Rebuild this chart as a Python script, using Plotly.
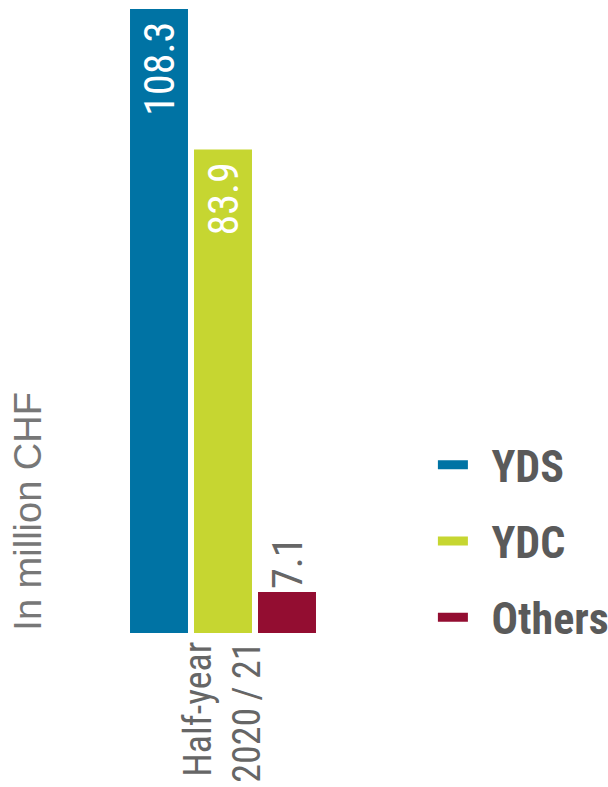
import plotly.graph_objects as go

# data
category = ["Half-year<br>2020\u2009/\u200921"]
series_names = ["YDS", "YDC", "Others"]
series_values = [108.3, 83.9, 7.1]
series_colors = ["#0073a4", "#c6d631", "#930d31"]
label_positions = ["inside", "inside", "outside"]

NARROW = "Liberation Sans Narrow, Arial Narrow, Roboto Condensed, Liberation Sans, sans-serif"
GREY = "#666666"

fig = go.Figure()

for name, val, color, pos in zip(series_names, series_values, series_colors, label_positions):
    # trailing nbsp keeps the inside labels a little below the bar top
    label = f"{val:.1f}" + ("\u00a0" if pos == "inside" else "")
    fig.add_trace(go.Bar(
        x=category,
        y=[val],
        name=name,
        marker=dict(color=color, line=dict(width=0)),
        text=[label],
        textposition=pos,
        insidetextanchor="end",
        textangle=-90,
        constraintext="none",
        cliponaxis=False,
        insidetextfont=dict(family=NARROW, size=42, color="white"),
        outsidetextfont=dict(family=NARROW, size=42, color=GREY),
        showlegend=False,
    ))

# legend entries drawn as flat swatches
for i, (name, color) in enumerate(zip(series_names, series_colors)):
    fig.add_trace(go.Scatter(
        x=[None], y=[None],
        mode="lines",
        name="\u00a0\u2009" + name,
        legendgroup=f"g{i}",
        line=dict(color=color, width=9),
        showlegend=True,
    ))

fig.update_layout(
    width=608,
    height=787,
    margin=dict(l=127, r=289, t=9, b=154, autoexpand=False),
    paper_bgcolor="white",
    plot_bgcolor="white",
    barmode="group",
    bargap=0,
    bargroupgap=0.094,
    font=dict(family=NARROW, color=GREY),
    legend=dict(
        xref="container", yref="container",
        x=0.712, y=0.454, xanchor="left", yanchor="top",
        font=dict(family=NARROW, size=44, color="#5a5a5a", weight="bold"),
        tracegroupgap=16,
        bgcolor="rgba(0,0,0,0)",
    ),
    annotations=[dict(
        text="In million CHF",
        xref="paper", yref="paper",
        x=-0.52, y=0, xanchor="center", yanchor="bottom",
        textangle=-90,
        showarrow=False,
        font=dict(family="Liberation Sans, Arial, sans-serif", size=38, color="#777777"),
    )],
)

fig.update_xaxes(
    showline=False, showgrid=False, ticks="",
    tickangle=-90,
    automargin=False,
    tickfont=dict(family=NARROW, size=38, color=GREY),
)
fig.update_yaxes(
    visible=False, range=[0, 108.3], showgrid=False, zeroline=False,
    automargin=False,
)

# the page's default body margin would shift the chart by 8px
fig.write_html(
    "out.html",
    config={"displayModeBar": False},
    post_script="document.body.style.margin = '0';",
)
